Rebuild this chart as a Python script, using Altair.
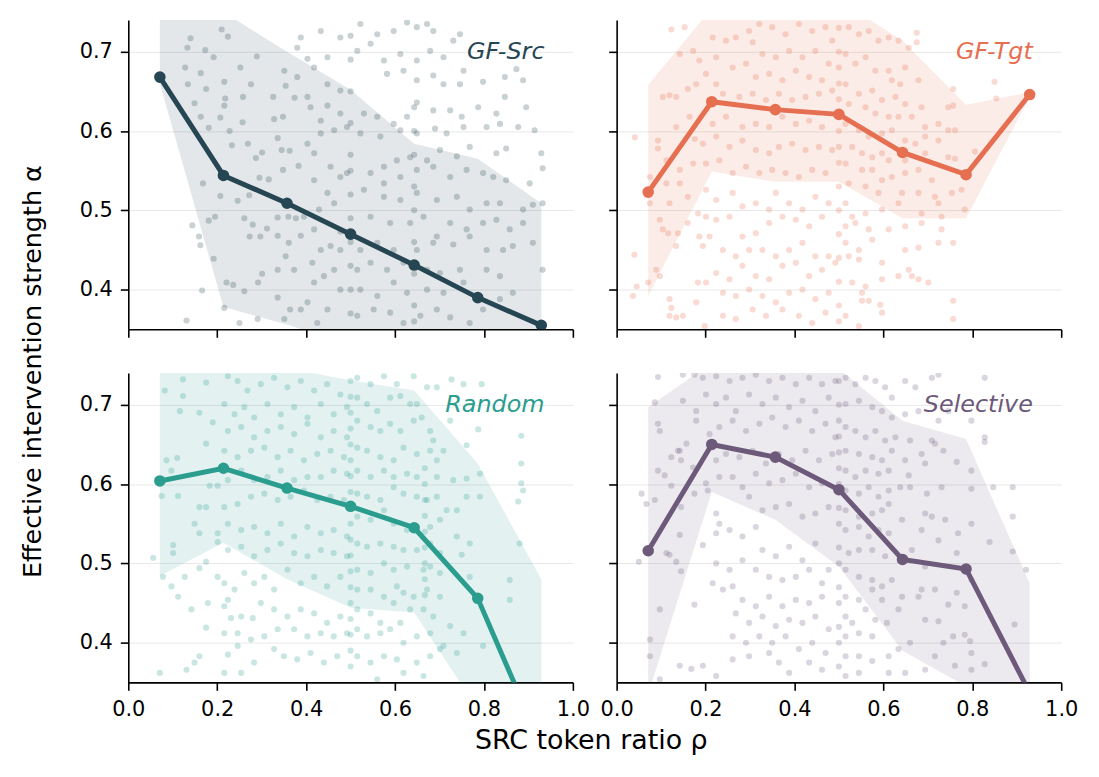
import altair as alt
import pandas as pd

# ---------------- data ----------------
x_bins = [0.071, 0.214, 0.357, 0.5, 0.643, 0.786, 0.929]
x_ticks = [0.0, 0.2, 0.4, 0.6, 0.8, 1.0]
y_ticks = [0.4, 0.5, 0.6, 0.7]
series = ["GF-Src", "GF-Tgt", "Random", "Selective"]
colors = ["#264653", "#e76f51", "#2a9d8f", "#6d597a"]

src_mean = [0.668, 0.544, 0.509, 0.470, 0.431, 0.390, 0.355]
src_lo = [0.660, 0.378, 0.356, 0.330, 0.300, 0.280, 0.260]
src_hi = [0.800, 0.750, 0.700, 0.652, 0.584, 0.565, 0.509]

tgt_mean = [0.523, 0.637, 0.627, 0.621, 0.573, 0.545, 0.646]
tgt_lo = [0.392, 0.549, 0.536, 0.536, 0.490, 0.490, 0.643]
tgt_hi = [0.658, 0.755, 0.780, 0.765, 0.714, 0.633, 0.649]

rnd_mean = [0.604, 0.620, 0.595, 0.572, 0.545, 0.456, 0.270]
rnd_lo = [0.484, 0.526, 0.480, 0.444, 0.438, 0.316, 0.200]
rnd_hi = [0.800, 0.800, 0.746, 0.731, 0.718, 0.626, 0.480]

sel_mean = [0.516, 0.650, 0.634, 0.593, 0.505, 0.493, 0.337]
sel_lo = [0.335, 0.590, 0.555, 0.496, 0.390, 0.345, 0.280]
sel_hi = [0.697, 0.753, 0.800, 0.745, 0.680, 0.657, 0.475]

src_pts = [
    (0.140, 0.717), (0.133, 0.705), (0.192, 0.693), (0.210, 0.728), (0.224, 0.719), (0.173, 0.702),
    (0.128, 0.680), (0.163, 0.673), (0.134, 0.659), (0.175, 0.653), (0.216, 0.662), (0.218, 0.641),
    (0.216, 0.632), (0.149, 0.635), (0.163, 0.618), (0.181, 0.604), (0.207, 0.617), (0.233, 0.582),
    (0.228, 0.600), (0.257, 0.611), (0.258, 0.643), (0.252, 0.680), (0.276, 0.659), (0.289, 0.694),
    (0.326, 0.643), (0.351, 0.676), (0.328, 0.615), (0.348, 0.618), (0.374, 0.642), (0.354, 0.657),
    (0.269, 0.584), (0.287, 0.566), (0.301, 0.573), (0.336, 0.591), (0.345, 0.576), (0.363, 0.575),
    (0.348, 0.551), (0.383, 0.556), (0.316, 0.539), (0.295, 0.541), (0.272, 0.519), (0.246, 0.512),
    (0.207, 0.518), (0.168, 0.534), (0.195, 0.492), (0.181, 0.487), (0.144, 0.481), (0.159, 0.467),
    (0.162, 0.456), (0.192, 0.439), (0.261, 0.490), (0.280, 0.482), (0.273, 0.467), (0.297, 0.467),
    (0.312, 0.477), (0.336, 0.491), (0.336, 0.468), (0.360, 0.492), (0.377, 0.490), (0.388, 0.468),
    (0.361, 0.459), (0.354, 0.442), (0.336, 0.425), (0.373, 0.425), (0.301, 0.420), (0.292, 0.409),
    (0.221, 0.409), (0.236, 0.406), (0.261, 0.398), (0.166, 0.399), (0.216, 0.377), (0.131, 0.361),
    (0.250, 0.358), (0.291, 0.363), (0.336, 0.390), (0.364, 0.375), (0.403, 0.384), (0.418, 0.409),
    (0.440, 0.417), (0.414, 0.434), (0.433, 0.450), (0.455, 0.455), (0.477, 0.473), (0.418, 0.476),
    (0.395, 0.492), (0.429, 0.501), (0.463, 0.509), (0.448, 0.522), (0.418, 0.538), (0.477, 0.542),
    (0.455, 0.555), (0.418, 0.572), (0.403, 0.584), (0.433, 0.597), (0.463, 0.601), (0.433, 0.613),
    (0.410, 0.630), (0.448, 0.632), (0.477, 0.622), (0.448, 0.659), (0.477, 0.651), (0.403, 0.643),
    (0.380, 0.668), (0.418, 0.680), (0.448, 0.693), (0.403, 0.691), (0.380, 0.705), (0.388, 0.718),
    (0.433, 0.726), (0.477, 0.718), (0.492, 0.605), (0.492, 0.547), (0.477, 0.450), (0.463, 0.425),
    (0.477, 0.400), (0.448, 0.375), (0.388, 0.375), (0.425, 0.358), (0.351, 0.363),
    (0.5, 0.72), (0.5, 0.69), (0.5, 0.65), (0.5, 0.61), (0.5, 0.57), (0.5, 0.55), (0.5, 0.52),
    (0.5, 0.49), (0.5, 0.46), (0.5, 0.43), (0.5, 0.40), (0.5, 0.37),
    (0.643, 0.63), (0.643, 0.60), (0.643, 0.57), (0.643, 0.53), (0.643, 0.50), (0.643, 0.46),
    (0.643, 0.42), (0.643, 0.38), (0.643, 0.36),
    (0.522, 0.735), (0.560, 0.722), (0.597, 0.726), (0.627, 0.737), (0.649, 0.731), (0.672, 0.735),
    (0.686, 0.726), (0.515, 0.701), (0.545, 0.710), (0.575, 0.689), (0.612, 0.697), (0.649, 0.689),
    (0.679, 0.701), (0.709, 0.693), (0.731, 0.714), (0.746, 0.722), (0.582, 0.672), (0.619, 0.676),
    (0.649, 0.664), (0.686, 0.670), (0.709, 0.659), (0.754, 0.676), (0.746, 0.659), (0.798, 0.662),
    (0.847, 0.668), (0.873, 0.678), (0.888, 0.664), (0.847, 0.643), (0.895, 0.630), (0.828, 0.622),
    (0.787, 0.630), (0.750, 0.618), (0.724, 0.626), (0.686, 0.626), (0.649, 0.636), (0.627, 0.618),
    (0.597, 0.609), (0.560, 0.618), (0.530, 0.622), (0.522, 0.597), (0.567, 0.593), (0.612, 0.601),
    (0.649, 0.597), (0.690, 0.603), (0.716, 0.597), (0.754, 0.605), (0.806, 0.605), (0.836, 0.609),
    (0.877, 0.605), (0.914, 0.601), (0.850, 0.578), (0.828, 0.572), (0.768, 0.580), (0.739, 0.568),
    (0.701, 0.576), (0.672, 0.563), (0.634, 0.567), (0.604, 0.563), (0.575, 0.555), (0.545, 0.547),
    (0.530, 0.526), (0.575, 0.534), (0.612, 0.542), (0.649, 0.551), (0.686, 0.555), (0.724, 0.542),
    (0.761, 0.551), (0.798, 0.547), (0.821, 0.542), (0.850, 0.538), (0.903, 0.534), (0.929, 0.572),
    (0.932, 0.553), (0.575, 0.517), (0.612, 0.513), (0.649, 0.522), (0.694, 0.513), (0.739, 0.517),
    (0.768, 0.501), (0.806, 0.509), (0.836, 0.509), (0.888, 0.501), (0.910, 0.507), (0.932, 0.509),
    (0.545, 0.492), (0.589, 0.484), (0.634, 0.484), (0.664, 0.492), (0.694, 0.467), (0.724, 0.484),
    (0.761, 0.476), (0.798, 0.484), (0.828, 0.488), (0.858, 0.476), (0.888, 0.484), (0.910, 0.459),
    (0.932, 0.425), (0.522, 0.450), (0.560, 0.459), (0.597, 0.450), (0.649, 0.450), (0.686, 0.459),
    (0.731, 0.457), (0.768, 0.467), (0.806, 0.450), (0.843, 0.450), (0.865, 0.455), (0.515, 0.425),
    (0.545, 0.434), (0.582, 0.425), (0.619, 0.434), (0.672, 0.425), (0.701, 0.421), (0.746, 0.425),
    (0.806, 0.425), (0.836, 0.417), (0.865, 0.396), (0.522, 0.400), (0.560, 0.392), (0.597, 0.409),
    (0.627, 0.396), (0.672, 0.400), (0.709, 0.396), (0.754, 0.409), (0.798, 0.375), (0.836, 0.388),
    (0.515, 0.367), (0.552, 0.375), (0.589, 0.371), (0.619, 0.358), (0.657, 0.367), (0.694, 0.375),
    (0.724, 0.365), (0.768, 0.358),
]

tgt_pts = [
    (0.123, 0.728), (0.153, 0.731), (0.142, 0.697), (0.119, 0.645), (0.134, 0.643), (0.104, 0.643),
    (0.160, 0.653), (0.179, 0.659), (0.201, 0.672), (0.186, 0.689), (0.172, 0.701), (0.224, 0.693),
    (0.216, 0.718), (0.246, 0.714), (0.268, 0.718), (0.298, 0.726), (0.321, 0.735), (0.350, 0.731),
    (0.380, 0.722), (0.410, 0.735), (0.440, 0.726), (0.470, 0.731), (0.485, 0.714), (0.306, 0.712),
    (0.328, 0.697), (0.358, 0.693), (0.388, 0.701), (0.418, 0.693), (0.447, 0.701), (0.477, 0.685),
    (0.261, 0.680), (0.291, 0.685), (0.313, 0.668), (0.343, 0.672), (0.373, 0.664), (0.403, 0.676),
    (0.433, 0.668), (0.462, 0.664), (0.224, 0.659), (0.239, 0.647), (0.276, 0.643), (0.306, 0.647),
    (0.336, 0.639), (0.365, 0.647), (0.395, 0.639), (0.425, 0.643), (0.455, 0.647), (0.485, 0.651),
    (0.164, 0.618), (0.134, 0.605), (0.093, 0.588), (0.093, 0.578), (0.041, 0.592), (0.176, 0.590),
    (0.216, 0.609), (0.246, 0.618), (0.283, 0.605), (0.313, 0.609), (0.343, 0.605), (0.373, 0.618),
    (0.403, 0.609), (0.433, 0.613), (0.462, 0.605), (0.194, 0.584), (0.224, 0.593), (0.254, 0.580),
    (0.283, 0.588), (0.313, 0.576), (0.343, 0.572), (0.365, 0.580), (0.395, 0.584), (0.425, 0.576),
    (0.455, 0.580), (0.485, 0.576), (0.112, 0.563), (0.142, 0.551), (0.172, 0.559), (0.201, 0.559),
    (0.231, 0.563), (0.261, 0.547), (0.291, 0.555), (0.321, 0.547), (0.350, 0.551), (0.380, 0.547),
    (0.410, 0.542), (0.440, 0.551), (0.470, 0.547), (0.075, 0.542), (0.112, 0.534), (0.142, 0.534),
    (0.160, 0.517), (0.119, 0.509), (0.097, 0.488), (0.075, 0.509), (0.104, 0.476), (0.116, 0.471),
    (0.138, 0.471), (0.160, 0.484), (0.183, 0.496), (0.201, 0.526), (0.224, 0.513), (0.261, 0.522),
    (0.283, 0.505), (0.313, 0.509), (0.343, 0.501), (0.358, 0.522), (0.388, 0.509), (0.418, 0.501),
    (0.447, 0.517), (0.477, 0.509), (0.462, 0.492), (0.433, 0.480), (0.403, 0.488), (0.373, 0.492),
    (0.343, 0.484), (0.313, 0.471), (0.283, 0.467), (0.254, 0.492), (0.224, 0.488), (0.201, 0.492),
    (0.186, 0.467), (0.194, 0.455), (0.209, 0.467), (0.239, 0.450), (0.268, 0.442), (0.298, 0.450),
    (0.328, 0.450), (0.358, 0.442), (0.388, 0.450), (0.418, 0.459), (0.447, 0.442), (0.477, 0.442),
    (0.040, 0.444), (0.134, 0.455), (0.097, 0.417), (0.089, 0.425), (0.071, 0.409), (0.045, 0.404),
    (0.037, 0.392), (0.119, 0.388), (0.123, 0.377), (0.119, 0.367), (0.134, 0.365), (0.149, 0.367),
    (0.179, 0.384), (0.201, 0.409), (0.224, 0.421), (0.254, 0.413), (0.283, 0.430), (0.313, 0.417),
    (0.343, 0.413), (0.373, 0.430), (0.403, 0.434), (0.433, 0.417), (0.462, 0.425), (0.492, 0.434),
    (0.239, 0.396), (0.268, 0.392), (0.298, 0.400), (0.328, 0.392), (0.358, 0.384), (0.388, 0.396),
    (0.418, 0.400), (0.447, 0.388), (0.477, 0.396), (0.239, 0.367), (0.268, 0.363), (0.306, 0.375),
    (0.336, 0.367), (0.373, 0.375), (0.410, 0.367), (0.440, 0.358), (0.470, 0.371), (0.198, 0.354),
    (0.183, 0.409),
    (0.5, 0.73), (0.5, 0.70), (0.5, 0.68), (0.5, 0.66), (0.5, 0.64), (0.5, 0.62), (0.5, 0.60),
    (0.5, 0.58), (0.5, 0.56), (0.5, 0.53), (0.5, 0.50), (0.5, 0.47), (0.5, 0.44), (0.5, 0.41),
    (0.5, 0.38), (0.5, 0.36),
    (0.522, 0.731), (0.545, 0.722), (0.567, 0.726), (0.589, 0.714), (0.612, 0.718), (0.634, 0.714),
    (0.657, 0.705), (0.675, 0.724), (0.675, 0.712), (0.515, 0.697), (0.537, 0.685), (0.560, 0.693),
    (0.582, 0.676), (0.612, 0.676), (0.619, 0.664), (0.638, 0.659), (0.649, 0.680), (0.679, 0.664),
    (0.515, 0.659), (0.545, 0.647), (0.575, 0.651), (0.597, 0.639), (0.627, 0.643), (0.649, 0.634),
    (0.686, 0.630), (0.522, 0.634), (0.560, 0.630), (0.582, 0.622), (0.612, 0.618), (0.634, 0.618),
    (0.664, 0.618), (0.694, 0.605), (0.724, 0.609), (0.746, 0.630), (0.757, 0.632), (0.757, 0.653),
    (0.850, 0.662), (0.854, 0.641), (0.515, 0.609), (0.545, 0.601), (0.567, 0.593), (0.597, 0.597),
    (0.619, 0.601), (0.649, 0.588), (0.672, 0.584), (0.694, 0.593), (0.724, 0.588), (0.746, 0.601),
    (0.761, 0.601), (0.530, 0.580), (0.552, 0.572), (0.575, 0.567), (0.597, 0.572), (0.612, 0.563),
    (0.649, 0.563), (0.694, 0.572), (0.746, 0.567), (0.761, 0.565), (0.806, 0.574), (0.515, 0.559),
    (0.552, 0.551), (0.575, 0.551), (0.597, 0.538), (0.619, 0.542), (0.649, 0.547), (0.679, 0.551),
    (0.709, 0.538), (0.522, 0.534), (0.560, 0.530), (0.589, 0.522), (0.642, 0.522), (0.679, 0.522),
    (0.716, 0.517), (0.754, 0.522), (0.776, 0.526), (0.515, 0.509), (0.530, 0.492), (0.560, 0.496),
    (0.597, 0.501), (0.634, 0.509), (0.686, 0.496), (0.724, 0.509), (0.731, 0.492), (0.783, 0.501),
    (0.515, 0.480), (0.537, 0.484), (0.567, 0.476), (0.612, 0.476), (0.649, 0.480), (0.686, 0.484),
    (0.731, 0.476), (0.515, 0.459), (0.545, 0.450), (0.575, 0.463), (0.649, 0.450), (0.679, 0.453),
    (0.724, 0.459), (0.757, 0.459), (0.522, 0.442), (0.545, 0.438), (0.597, 0.434), (0.634, 0.417),
    (0.657, 0.425), (0.664, 0.417), (0.679, 0.413), (0.701, 0.409), (0.530, 0.409), (0.560, 0.404),
    (0.597, 0.413), (0.552, 0.396), (0.552, 0.386), (0.567, 0.386), (0.593, 0.381), (0.597, 0.371),
    (0.757, 0.386), (0.757, 0.363), (0.515, 0.367), (0.545, 0.354),
]

rnd_pts = [
    (0.123, 0.732), (0.082, 0.718), (0.123, 0.711), (0.116, 0.692), (0.160, 0.690), (0.175, 0.728),
    (0.224, 0.736), (0.246, 0.730), (0.268, 0.718), (0.298, 0.726), (0.328, 0.734), (0.358, 0.722),
    (0.388, 0.730), (0.418, 0.718), (0.447, 0.726), (0.477, 0.713), (0.216, 0.701), (0.239, 0.688),
    (0.261, 0.697), (0.283, 0.684), (0.313, 0.701), (0.343, 0.688), (0.373, 0.697), (0.403, 0.684),
    (0.433, 0.701), (0.462, 0.688), (0.492, 0.697), (0.190, 0.678), (0.224, 0.667), (0.254, 0.672),
    (0.283, 0.659), (0.313, 0.667), (0.343, 0.672), (0.373, 0.663), (0.403, 0.676), (0.433, 0.659),
    (0.462, 0.667), (0.492, 0.659), (0.175, 0.651), (0.216, 0.642), (0.246, 0.634), (0.276, 0.642),
    (0.306, 0.646), (0.336, 0.634), (0.365, 0.642), (0.395, 0.630), (0.425, 0.638), (0.455, 0.642),
    (0.485, 0.634), (0.086, 0.630), (0.110, 0.633), (0.097, 0.617), (0.183, 0.598), (0.201, 0.598),
    (0.224, 0.605), (0.254, 0.617), (0.283, 0.605), (0.313, 0.609), (0.343, 0.617), (0.373, 0.605),
    (0.403, 0.609), (0.433, 0.609), (0.462, 0.617), (0.492, 0.613), (0.075, 0.585), (0.112, 0.585),
    (0.149, 0.550), (0.160, 0.571), (0.175, 0.571), (0.216, 0.571), (0.246, 0.575), (0.276, 0.584),
    (0.306, 0.588), (0.336, 0.580), (0.365, 0.584), (0.395, 0.592), (0.425, 0.580), (0.455, 0.584),
    (0.485, 0.580), (0.101, 0.523), (0.101, 0.513), (0.160, 0.538), (0.201, 0.538), (0.201, 0.527),
    (0.224, 0.550), (0.254, 0.542), (0.283, 0.546), (0.313, 0.538), (0.343, 0.550), (0.373, 0.534),
    (0.403, 0.546), (0.433, 0.538), (0.462, 0.542), (0.492, 0.534), (0.224, 0.517), (0.254, 0.521),
    (0.283, 0.509), (0.313, 0.517), (0.343, 0.525), (0.373, 0.513), (0.403, 0.509), (0.433, 0.517),
    (0.462, 0.513), (0.492, 0.509), (0.056, 0.507), (0.078, 0.483), (0.097, 0.471), (0.112, 0.458),
    (0.127, 0.483), (0.160, 0.494), (0.175, 0.502), (0.201, 0.483), (0.216, 0.475), (0.224, 0.454),
    (0.239, 0.467), (0.261, 0.488), (0.283, 0.475), (0.306, 0.483), (0.328, 0.467), (0.358, 0.492),
    (0.388, 0.475), (0.418, 0.483), (0.447, 0.471), (0.477, 0.483), (0.142, 0.442), (0.179, 0.450),
    (0.216, 0.446), (0.231, 0.431), (0.254, 0.433), (0.280, 0.431), (0.298, 0.450), (0.328, 0.442),
    (0.358, 0.433), (0.388, 0.442), (0.418, 0.437), (0.447, 0.425), (0.477, 0.433), (0.175, 0.419),
    (0.216, 0.412), (0.246, 0.412), (0.276, 0.404), (0.306, 0.408), (0.336, 0.417), (0.373, 0.417),
    (0.403, 0.408), (0.433, 0.412), (0.462, 0.408), (0.492, 0.412), (0.160, 0.383), (0.224, 0.385),
    (0.246, 0.396), (0.131, 0.366), (0.149, 0.375), (0.216, 0.362), (0.254, 0.362), (0.283, 0.375),
    (0.328, 0.392), (0.350, 0.383), (0.380, 0.379), (0.410, 0.387), (0.440, 0.375), (0.470, 0.383),
    (0.071, 0.362),
    (0.5, 0.73), (0.5, 0.71), (0.5, 0.69), (0.5, 0.67), (0.5, 0.65), (0.5, 0.63), (0.5, 0.61),
    (0.5, 0.59), (0.5, 0.57), (0.5, 0.55), (0.5, 0.53), (0.5, 0.51), (0.5, 0.49), (0.5, 0.47),
    (0.5, 0.45), (0.5, 0.43), (0.5, 0.41), (0.5, 0.39), (0.5, 0.37),
    (0.667, 0.62), (0.667, 0.60), (0.667, 0.58), (0.667, 0.56), (0.667, 0.54), (0.667, 0.52),
    (0.667, 0.50), (0.667, 0.48), (0.667, 0.46),
    (0.515, 0.734), (0.545, 0.726), (0.575, 0.736), (0.604, 0.726), (0.642, 0.736), (0.672, 0.722),
    (0.694, 0.722), (0.727, 0.732), (0.754, 0.726), (0.795, 0.726), (0.515, 0.709), (0.537, 0.701),
    (0.560, 0.692), (0.589, 0.709), (0.612, 0.711), (0.634, 0.701), (0.649, 0.701), (0.660, 0.684),
    (0.515, 0.680), (0.545, 0.672), (0.567, 0.667), (0.589, 0.676), (0.612, 0.667), (0.642, 0.680),
    (0.679, 0.667), (0.686, 0.655), (0.724, 0.680), (0.761, 0.649), (0.787, 0.669), (0.884, 0.661),
    (0.515, 0.646), (0.537, 0.642), (0.567, 0.634), (0.597, 0.630), (0.619, 0.646), (0.649, 0.638),
    (0.679, 0.642), (0.694, 0.630), (0.709, 0.642), (0.515, 0.617), (0.545, 0.609), (0.575, 0.617),
    (0.597, 0.609), (0.627, 0.613), (0.649, 0.609), (0.694, 0.609), (0.731, 0.605), (0.761, 0.607),
    (0.791, 0.613), (0.884, 0.626), (0.515, 0.588), (0.537, 0.584), (0.567, 0.580), (0.597, 0.596),
    (0.619, 0.588), (0.649, 0.584), (0.672, 0.580), (0.694, 0.584), (0.716, 0.567), (0.739, 0.567),
    (0.761, 0.584), (0.791, 0.584), (0.877, 0.578), (0.884, 0.601), (0.888, 0.592), (0.515, 0.559),
    (0.545, 0.555), (0.575, 0.567), (0.597, 0.550), (0.627, 0.542), (0.649, 0.546), (0.679, 0.546),
    (0.701, 0.555), (0.739, 0.534), (0.768, 0.525), (0.515, 0.525), (0.537, 0.521), (0.567, 0.525),
    (0.597, 0.521), (0.619, 0.517), (0.649, 0.517), (0.679, 0.525), (0.701, 0.513), (0.750, 0.511),
    (0.880, 0.525), (0.515, 0.492), (0.545, 0.488), (0.575, 0.500), (0.597, 0.492), (0.627, 0.496),
    (0.664, 0.492), (0.679, 0.496), (0.701, 0.488), (0.768, 0.483), (0.515, 0.467), (0.545, 0.467),
    (0.575, 0.458), (0.604, 0.471), (0.619, 0.463), (0.642, 0.458), (0.672, 0.467), (0.701, 0.458),
    (0.858, 0.479), (0.858, 0.454), (0.515, 0.442), (0.545, 0.437), (0.567, 0.425), (0.597, 0.450),
    (0.612, 0.425), (0.634, 0.442), (0.664, 0.442), (0.686, 0.433), (0.724, 0.421), (0.754, 0.412),
    (0.515, 0.417), (0.537, 0.408), (0.567, 0.412), (0.589, 0.417), (0.619, 0.400), (0.649, 0.408),
    (0.679, 0.412), (0.709, 0.396), (0.739, 0.387), (0.798, 0.396), (0.515, 0.383), (0.545, 0.375),
    (0.575, 0.383), (0.604, 0.379), (0.649, 0.375), (0.679, 0.383), (0.701, 0.392), (0.619, 0.362),
    (0.664, 0.358), (0.560, 0.354),
]

sel_pts = [
    (0.093, 0.735), (0.149, 0.738), (0.175, 0.738), (0.194, 0.734), (0.224, 0.736), (0.254, 0.730),
    (0.283, 0.734), (0.313, 0.738), (0.343, 0.730), (0.373, 0.734), (0.403, 0.726), (0.433, 0.734),
    (0.462, 0.726), (0.492, 0.730), (0.086, 0.703), (0.149, 0.705), (0.179, 0.692), (0.201, 0.713),
    (0.224, 0.701), (0.246, 0.709), (0.268, 0.692), (0.298, 0.713), (0.328, 0.701), (0.358, 0.709),
    (0.388, 0.697), (0.418, 0.705), (0.447, 0.692), (0.477, 0.709), (0.093, 0.676), (0.097, 0.667),
    (0.157, 0.651), (0.142, 0.642), (0.179, 0.680), (0.209, 0.663), (0.231, 0.672), (0.261, 0.680),
    (0.291, 0.667), (0.321, 0.676), (0.350, 0.684), (0.380, 0.672), (0.410, 0.680), (0.440, 0.667),
    (0.470, 0.676), (0.492, 0.659), (0.093, 0.617), (0.108, 0.611), (0.123, 0.634), (0.138, 0.642),
    (0.145, 0.630), (0.172, 0.621), (0.224, 0.630), (0.246, 0.638), (0.276, 0.634), (0.306, 0.642),
    (0.336, 0.626), (0.365, 0.638), (0.395, 0.630), (0.425, 0.642), (0.455, 0.630), (0.485, 0.638),
    (0.056, 0.588), (0.067, 0.575), (0.086, 0.580), (0.123, 0.598), (0.145, 0.571), (0.175, 0.588),
    (0.201, 0.601), (0.205, 0.592), (0.231, 0.609), (0.261, 0.609), (0.283, 0.596), (0.313, 0.613),
    (0.343, 0.601), (0.373, 0.605), (0.403, 0.613), (0.433, 0.596), (0.462, 0.601), (0.298, 0.584),
    (0.328, 0.567), (0.358, 0.571), (0.388, 0.575), (0.418, 0.559), (0.447, 0.563), (0.477, 0.571),
    (0.112, 0.513), (0.119, 0.511), (0.134, 0.502), (0.050, 0.502), (0.145, 0.490), (0.142, 0.536),
    (0.175, 0.448), (0.097, 0.442), (0.075, 0.383), (0.075, 0.404), (0.224, 0.563), (0.231, 0.550),
    (0.254, 0.542), (0.224, 0.538), (0.283, 0.534), (0.313, 0.546), (0.328, 0.517), (0.358, 0.509),
    (0.388, 0.521), (0.418, 0.504), (0.447, 0.525), (0.477, 0.492), (0.194, 0.523), (0.224, 0.500),
    (0.254, 0.492), (0.283, 0.504), (0.313, 0.492), (0.343, 0.483), (0.373, 0.479), (0.403, 0.483),
    (0.433, 0.492), (0.462, 0.475), (0.216, 0.475), (0.239, 0.467), (0.261, 0.471), (0.283, 0.454),
    (0.313, 0.446), (0.343, 0.458), (0.373, 0.446), (0.403, 0.454), (0.433, 0.450), (0.462, 0.458),
    (0.268, 0.437), (0.298, 0.425), (0.328, 0.433), (0.358, 0.421), (0.388, 0.429), (0.418, 0.425),
    (0.447, 0.433), (0.477, 0.417), (0.261, 0.408), (0.291, 0.400), (0.321, 0.408), (0.350, 0.400),
    (0.380, 0.408), (0.410, 0.392), (0.440, 0.400), (0.470, 0.387), (0.142, 0.371), (0.168, 0.367),
    (0.194, 0.371), (0.261, 0.379), (0.298, 0.383), (0.343, 0.387), (0.365, 0.375), (0.388, 0.362),
    (0.433, 0.375), (0.462, 0.366), (0.224, 0.358), (0.097, 0.354),
    (0.5, 0.73), (0.5, 0.70), (0.5, 0.68), (0.5, 0.66), (0.5, 0.64), (0.5, 0.62), (0.5, 0.60),
    (0.5, 0.57), (0.5, 0.55), (0.5, 0.52), (0.5, 0.50), (0.5, 0.47), (0.5, 0.45), (0.5, 0.42),
    (0.5, 0.40), (0.5, 0.37),
    (0.515, 0.734), (0.537, 0.726), (0.560, 0.734), (0.582, 0.730), (0.604, 0.722), (0.619, 0.709),
    (0.649, 0.730), (0.672, 0.722), (0.709, 0.734), (0.724, 0.738), (0.828, 0.734), (0.515, 0.701),
    (0.545, 0.705), (0.575, 0.697), (0.597, 0.692), (0.619, 0.684), (0.649, 0.688), (0.679, 0.692),
    (0.724, 0.680), (0.746, 0.692), (0.798, 0.680), (0.828, 0.659), (0.828, 0.653), (0.515, 0.672),
    (0.537, 0.667), (0.560, 0.659), (0.582, 0.667), (0.604, 0.655), (0.627, 0.659), (0.660, 0.655),
    (0.709, 0.655), (0.735, 0.642), (0.515, 0.642), (0.545, 0.638), (0.575, 0.634), (0.597, 0.630),
    (0.619, 0.642), (0.649, 0.630), (0.686, 0.638), (0.716, 0.651), (0.765, 0.628), (0.515, 0.617),
    (0.537, 0.609), (0.560, 0.617), (0.589, 0.613), (0.612, 0.617), (0.657, 0.611), (0.694, 0.626),
    (0.798, 0.617), (0.515, 0.592), (0.545, 0.588), (0.567, 0.596), (0.589, 0.584), (0.612, 0.592),
    (0.638, 0.596), (0.660, 0.596), (0.698, 0.588), (0.731, 0.596), (0.798, 0.594), (0.847, 0.596),
    (0.891, 0.596), (0.515, 0.567), (0.545, 0.559), (0.575, 0.563), (0.597, 0.567), (0.612, 0.575),
    (0.642, 0.555), (0.694, 0.563), (0.709, 0.559), (0.739, 0.555), (0.798, 0.550), (0.891, 0.559),
    (0.515, 0.542), (0.545, 0.546), (0.567, 0.534), (0.589, 0.542), (0.612, 0.538), (0.686, 0.542),
    (0.724, 0.529), (0.768, 0.538), (0.839, 0.527), (0.522, 0.513), (0.545, 0.517), (0.575, 0.517),
    (0.604, 0.509), (0.664, 0.517), (0.694, 0.496), (0.765, 0.513), (0.891, 0.515), (0.921, 0.492),
    (0.515, 0.492), (0.545, 0.483), (0.575, 0.479), (0.597, 0.471), (0.619, 0.479), (0.686, 0.467),
    (0.716, 0.467), (0.765, 0.463), (0.798, 0.479), (0.515, 0.458), (0.545, 0.454), (0.575, 0.467),
    (0.597, 0.454), (0.642, 0.458), (0.679, 0.458), (0.746, 0.448), (0.783, 0.446), (0.515, 0.433),
    (0.530, 0.425), (0.560, 0.442), (0.582, 0.429), (0.608, 0.425), (0.634, 0.442), (0.694, 0.429),
    (0.724, 0.427), (0.895, 0.423), (0.515, 0.408), (0.545, 0.412), (0.575, 0.408), (0.634, 0.392),
    (0.660, 0.400), (0.757, 0.408), (0.783, 0.410), (0.795, 0.402), (0.515, 0.383), (0.545, 0.383),
    (0.575, 0.377), (0.612, 0.383), (0.716, 0.383), (0.735, 0.400), (0.798, 0.387), (0.828, 0.373),
    (0.515, 0.358), (0.545, 0.362), (0.612, 0.362), (0.649, 0.362), (0.694, 0.366), (0.761, 0.371),
    (0.798, 0.366),
]

panels_data = [
    (src_mean, src_lo, src_hi, src_pts),
    (tgt_mean, tgt_lo, tgt_hi, tgt_pts),
    (rnd_mean, rnd_lo, rnd_hi, rnd_pts),
    (sel_mean, sel_lo, sel_hi, sel_pts),
]

FONT = "DejaVu Sans"
PW, PH = 447, 311
GAP = 44


def make_panel(i):
    name, color = series[i], colors[i]
    mean, lo, hi, pts = panels_data[i]
    row, col = divmod(i, 2)

    scat_df = pd.DataFrame({"x": [p[0] for p in pts], "y": [p[1] for p in pts]})
    line_df = pd.DataFrame({"x": x_bins, "mean": mean, "lo": lo, "hi": hi})
    lab_df = pd.DataFrame({"label": [name]})

    common = dict(
        tickSize=8, tickWidth=1.6, tickColor="black",
        domainColor="black", domainWidth=1.6,
        labelFontSize=21, labelColor="black", labelFont=FONT,
        titleFont=FONT, titleFontWeight="normal", titleColor="black",
    )
    xkw = dict(common, values=x_ticks, format=".1f", labels=(row == 1), grid=False,
               labelPadding=8, labelFlush=False)
    if row == 1 and col == 0:
        xkw.update(title="SRC token ratio ρ", titleFontSize=27, titleX=PW + GAP / 2 - 4,
                   titleY=58, titleBaseline="middle", titleAlign="center")
    else:
        xkw["title"] = None
    ykw = dict(common, values=y_ticks, format=".1f", labels=(col == 0), grid=True,
               gridColor="#e8e8e8", gridWidth=1, labelPadding=8)
    if row == 0 and col == 0:
        ykw.update(title="Effective intervention strength α", titleFontSize=25.5,
                   titleX=-96, titleY=353, titleBaseline="middle", titleAlign="center",
                   titleAngle=270)
    else:
        ykw["title"] = None

    xs = alt.Scale(domain=[0, 1], nice=False, zero=False)
    ys = alt.Scale(domain=[0.35, 0.74], nice=False, zero=False)
    xax = alt.Axis(**xkw)
    yax = alt.Axis(**ykw)

    scatter = alt.Chart(scat_df).mark_circle(size=38, color=color, opacity=0.25, clip=True).encode(
        x=alt.X("x:Q", scale=xs, axis=xax),
        y=alt.Y("y:Q", scale=ys, axis=yax),
    )
    band = alt.Chart(line_df).mark_area(color=color, opacity=0.13, clip=True).encode(
        x=alt.X("x:Q", scale=xs, axis=xax),
        y=alt.Y("lo:Q", scale=ys, axis=yax),
        y2="hi:Q",
    )
    line = alt.Chart(line_df).mark_line(color=color, strokeWidth=5, clip=True).encode(
        x=alt.X("x:Q", scale=xs, axis=xax),
        y=alt.Y("mean:Q", scale=ys, axis=yax),
    )
    dots = alt.Chart(line_df).mark_circle(size=135, color=color, opacity=1, clip=True).encode(
        x=alt.X("x:Q", scale=xs, axis=xax),
        y=alt.Y("mean:Q", scale=ys, axis=yax),
    )
    label = alt.Chart(lab_df).mark_text(
        align="right", baseline="alphabetic", font=FONT, fontStyle="italic",
        fontSize=24, color=color,
    ).encode(x=alt.value(PW - 28.5), y=alt.value(39), text="label:N")

    return alt.layer(scatter, band, line, dots, label).properties(width=PW, height=PH)


chart = alt.concat(
    *[make_panel(i) for i in range(4)], columns=2, spacing=GAP, bounds="flush"
).properties(
    padding={"left": 20, "top": 17, "right": 20, "bottom": 20},
    background="white",
).configure_view(stroke="transparent")

chart.save("out.html", embed_options={"renderer": "svg", "actions": False})
